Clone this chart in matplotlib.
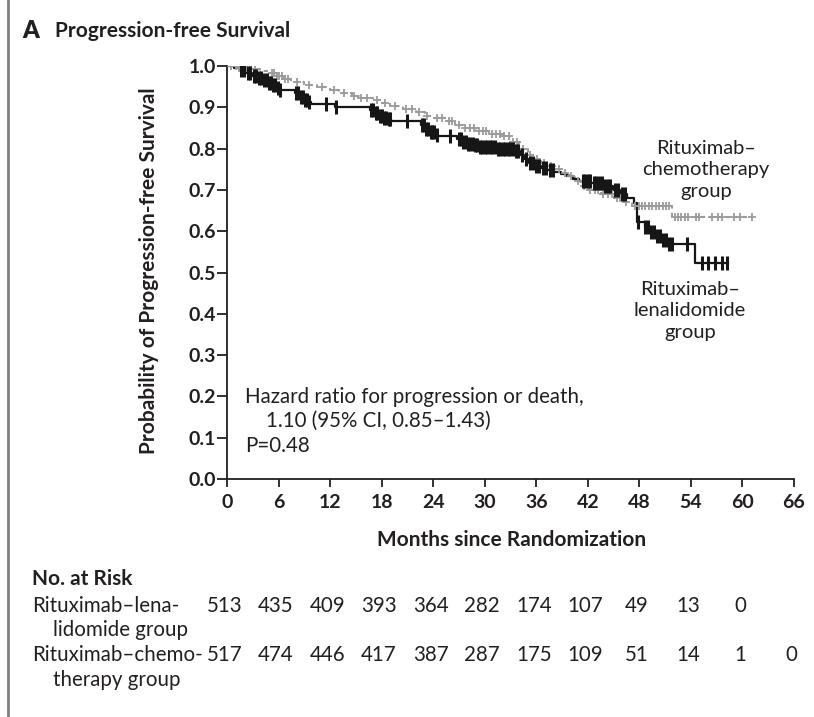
import numpy as np
import matplotlib
matplotlib.use('Agg')
import matplotlib.pyplot as plt
from matplotlib.lines import Line2D
import matplotlib.transforms as mtransforms

plt.rcParams['font.family'] = ['Lato', 'DejaVu Sans']

### Data: Kaplan-Meier steps (time of drop, survival after drop)
len_t = [0, 0.8, 1.5, 2.2, 2.9, 3.5, 4.2, 4.9, 5.3, 5.7, 6.1, 7.9, 8.4, 8.9, 9.4, 9.8, 12.6,
         16.7, 17.2, 17.7, 18.2, 18.7, 19.1, 22.6, 23.1, 23.6, 24.2, 24.6, 26.8, 27.4, 28.0,
         28.7, 29.4, 30.2, 31.5, 33.4, 34.1, 34.6, 35.2, 35.8, 36.5, 37.3, 38.1, 38.9, 39.6,
         40.3, 41.0, 42.4, 43.8, 44.9, 45.8, 46.6, 47.4, 47.7, 48.6, 49.3, 50.0, 50.7, 51.4, 54.5]
len_s = [1.0, 0.995, 0.99, 0.983, 0.976, 0.97, 0.965, 0.96, 0.953, 0.946, 0.942, 0.934, 0.926,
         0.918, 0.912, 0.907, 0.90, 0.893, 0.886, 0.88, 0.875, 0.872, 0.868, 0.858, 0.848, 0.84,
         0.834, 0.83, 0.823, 0.817, 0.812, 0.808, 0.805, 0.803, 0.80, 0.795, 0.785, 0.775, 0.765,
         0.758, 0.752, 0.748, 0.743, 0.738, 0.733, 0.727, 0.722, 0.716, 0.71, 0.70, 0.69, 0.68,
         0.668, 0.622, 0.61, 0.598, 0.588, 0.578, 0.568, 0.522]
len_end = 58.3
len_cens = [1.6, 2.0, 2.4, 2.7, 3.1, 3.4, 3.7, 4.0, 4.3, 4.6, 4.9, 5.1, 5.4, 5.6, 5.9, 6.2,
            8.0, 8.3, 8.6, 8.8, 9.1, 9.3, 9.6, 11.5, 12.7,
            16.8, 17.0, 17.3, 17.5, 17.8, 18.0, 18.3, 18.5, 18.8, 19.0, 20.9,
            22.7, 22.9, 23.2, 23.4, 23.7, 23.9, 24.1, 24.4, 26.0,
            27.0, 27.2, 27.5, 27.8, 28.1, 28.3, 28.6, 28.9, 29.1, 29.4, 29.7, 30.0, 30.3, 30.6,
            30.9, 31.2, 31.5, 31.8, 32.1, 32.4, 32.7, 33.0, 33.3, 33.6, 33.9,
            34.3, 34.8, 35.3, 35.6, 36.0, 36.3, 36.8, 37.1, 37.6, 38.0,
            41.4, 41.7, 42.0, 42.3, 42.7, 43.0, 43.3, 43.6, 44.0, 44.3, 44.6, 45.2, 45.5, 46.0, 46.3,
            47.8, 48.7, 49.0, 49.4, 49.7, 50.1, 50.4, 50.8, 51.1, 51.5, 51.8,
            53.5, 55.3, 56.0, 56.8, 57.6, 58.2]

chemo_t = [0, 1.2, 2.5, 3.8, 5.0, 5.8, 6.5, 7.5, 9.0, 10.5, 12.0, 13.0, 14.5, 15.5, 17.0, 18.0,
           19.0, 20.5, 22.0, 23.0, 24.0, 25.5, 26.5, 27.5, 29.0, 30.5, 32.0, 33.0, 34.0, 35.0,
           35.8, 36.5, 37.3, 38.2, 39.0, 39.8, 40.5, 41.2, 42.0, 43.5, 45.0, 46.2, 47.2, 51.8]
chemo_s = [1.0, 0.996, 0.992, 0.987, 0.982, 0.975, 0.968, 0.962, 0.955, 0.948, 0.942, 0.935,
           0.928, 0.922, 0.918, 0.91, 0.902, 0.895, 0.888, 0.88, 0.873, 0.866, 0.858, 0.85,
           0.843, 0.836, 0.83, 0.815, 0.80, 0.785, 0.775, 0.765, 0.757, 0.75, 0.742, 0.733,
           0.722, 0.71, 0.70, 0.69, 0.68, 0.67, 0.66, 0.634]
chemo_end = 61.1
chemo_cens = [0.5, 1.0, 1.4, 1.9, 2.3, 2.8, 3.3, 5.2, 5.5, 5.8, 6.1, 6.4, 6.7, 7.1, 8.2, 9.5,
              11.0, 12.4, 13.6, 14.8, 15.6, 16.3, 17.5, 18.4, 19.6, 20.8, 21.5, 22.3, 23.3,
              24.4, 25.0, 25.8, 26.2, 27.0, 27.7, 28.3, 28.8, 29.3, 29.8, 30.2, 30.8, 31.3,
              31.8, 32.3, 32.8, 33.3, 33.7, 34.4, 35.3, 36.1, 36.9, 37.7, 38.6, 39.4, 40.1,
              40.8, 41.6, 42.3, 42.8, 43.2, 43.8, 44.3, 44.8, 45.4, 45.8, 46.5, 47.5, 47.9,
              48.3, 48.7, 49.1, 49.5, 49.9, 50.3, 50.7, 51.1, 51.5, 52.1, 52.5, 52.9, 53.3,
              53.7, 54.6, 54.9, 56.5, 57.2, 57.6, 59.0, 59.7, 61.1]

xticks = np.arange(0, 67, 6)
risk_len = ['513', '435', '409', '393', '364', '282', '174', '107', '49', '13', '0']
risk_chemo = ['517', '474', '446', '417', '387', '287', '175', '109', '51', '14', '1', '0']

W, H = 814, 717
tc = '#231f20'
fs = 14.8


def fp(x, y):
    return x / W, 1 - y / H


def step_val(t, s, c):
    i = np.searchsorted(t, c, side='right') - 1
    return np.asarray(s)[i]


def draw_km(ax, t, s, tend, cens, color, ls, lw, mk, ms, mew):
    tt = list(t) + [tend]
    ss = list(s) + [s[-1]]
    ax.step(tt, ss, where='post', color=color, ls=ls, lw=lw, zorder=3)
    cy = step_val(t, s, np.array(cens))
    ax.plot(cens, cy, ls='none', marker=mk, ms=ms, mew=mew, color=color, zorder=4)


def main():
    fig = plt.figure(figsize=(W / 100, H / 100), dpi=100)
    ax = fig.add_axes([227 / W, 1 - 479 / H, (794 - 227) / W, (479 - 66) / H])

    draw_km(ax, chemo_t, chemo_s, chemo_end, chemo_cens, '#9b9b9b', (0, (2, 2)), 1.5, '+', 6, 1.3)
    draw_km(ax, len_t, len_s, len_end, len_cens, '#161616', '-', 1.6, '|', 9.5, 2.2)

    ax.set_xlim(0, 66)
    ax.set_ylim(0, 1.0)
    ax.set_xticks(xticks)
    ax.set_yticks(np.arange(0, 1.01, 0.1))
    ax.set_yticklabels(['{:.1f}'.format(v) for v in np.arange(0, 1.01, 0.1)])
    for sp in ['top', 'right']:
        ax.spines[sp].set_visible(False)
    for sp in ['left', 'bottom']:
        ax.spines[sp].set_linewidth(1.3)
        ax.spines[sp].set_color(tc)
        ax.spines[sp].set_clip_on(False)
    ax.tick_params(axis='y', length=7, width=1.3, pad=1, labelsize=14, colors=tc)
    ax.tick_params(axis='x', length=6, width=1.3, pad=5, labelsize=14, colors=tc)
    for lab in ax.get_xticklabels() + ax.get_yticklabels():
        lab.set_fontweight('bold')

    ### Axis labels
    fig.text(*fp(149, 271), 'Probability of Progression-free Survival', rotation=90,
             ha='center', va='center', fontsize=15, fontweight='bold', color=tc)
    fig.text(*fp(512, 540), 'Months since Randomization', ha='center', va='center',
             fontsize=15, fontweight='bold', color=tc)

    ### Title
    fig.text(*fp(22, 31), 'A', ha='left', va='center', fontsize=17, fontweight='heavy', color=tc)
    fig.text(*fp(55, 31), 'Progression-free Survival', ha='left', va='center',
             fontsize=15, fontweight='bold', color=tc)

    ### Annotations
    fig.text(*fp(245, 397), 'Hazard ratio for progression or death,', ha='left', va='center',
             fontsize=fs, color=tc)
    fig.text(*fp(266, 421), '1.10 (95% CI, 0.85\u20131.43)', ha='left', va='center',
             fontsize=fs, color=tc)
    fig.text(*fp(245, 446), 'P=0.48', ha='left', va='center', fontsize=fs, color=tc)

    fig.text(*fp(706, 170), 'Rituximab\u2013\nchemotherapy\ngroup', ha='center', va='center',
             fontsize=14.5, color=tc, linespacing=1.3)
    fig.text(*fp(690, 311), 'Rituximab\u2013\nlenalidomide\ngroup', ha='center', va='center',
             fontsize=14.5, color=tc, linespacing=1.3)

    ### Number at risk
    fig.text(*fp(32, 579), 'No. at Risk', ha='left', va='center', fontsize=15,
             fontweight='bold', color=tc)
    fig.text(*fp(32, 606), 'Rituximab\u2013lena-', ha='left', va='center', fontsize=fs, color=tc)
    fig.text(*fp(53, 630), 'lidomide group', ha='left', va='center', fontsize=fs, color=tc)
    fig.text(*fp(32, 655), 'Rituximab\u2013chemo-', ha='left', va='center', fontsize=fs, color=tc)
    fig.text(*fp(53, 680), 'therapy group', ha='left', va='center', fontsize=fs, color=tc)

    trans = mtransforms.blended_transform_factory(ax.transData, fig.transFigure)
    for x, v in zip(xticks, risk_len):
        ax.text(x - 0.3, 1 - 606 / H, v, transform=trans, ha='center', va='center',
                fontsize=fs, color=tc, clip_on=False)
    for x, v in zip(xticks, risk_chemo):
        ax.text(x - 0.3, 1 - 655 / H, v, transform=trans, ha='center', va='center',
                fontsize=fs, color=tc, clip_on=False)

    ### Left border line
    fig.add_artist(Line2D([8 / W, 8 / W], [0, 1], transform=fig.transFigure,
                          color='#7f7f7f', lw=2))

    fig.savefig('out.png', dpi=100)


if __name__ == '__main__':
    main()
